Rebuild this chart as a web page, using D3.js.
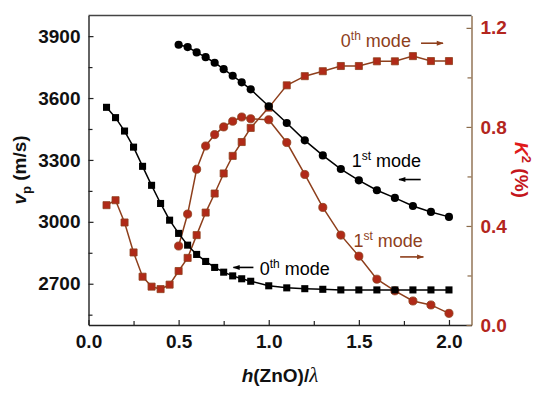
<!DOCTYPE html>
<html>
<head>
<meta charset="utf-8">
<script src="https://cdn.jsdelivr.net/npm/d3@7"></script>
<style>
    body { margin: 0; background: #fff; }
    svg { font-family: Arial, "Liberation Sans", sans-serif; }
</style>
</head>
<body>
<svg id="chart" width="550" height="396"></svg>
<script>
// Data
const hMode0 = [0.1, 0.15, 0.2, 0.25, 0.3, 0.35, 0.4, 0.45, 0.5, 0.55, 0.6, 0.65, 0.7, 0.75, 0.8, 0.85, 0.9, 1.0, 1.1, 1.2, 1.3, 1.4, 1.5, 1.6, 1.7, 1.8, 1.9, 2.0];
const vpMode0 = [3555, 3505, 3440, 3362, 3269, 3177, 3089, 3008, 2944, 2887, 2842, 2808, 2779, 2756, 2738, 2724, 2712, 2690, 2680, 2676, 2673, 2670, 2670, 2670, 2670, 2670, 2670, 2670];
const k2Mode0 = [0.484, 0.504, 0.414, 0.293, 0.195, 0.155, 0.145, 0.163, 0.218, 0.271, 0.363, 0.454, 0.531, 0.612, 0.683, 0.739, 0.796, 0.878, 0.968, 1.005, 1.025, 1.046, 1.046, 1.065, 1.065, 1.086, 1.066, 1.066];

const hMode1 = [0.5, 0.55, 0.6, 0.65, 0.7, 0.75, 0.8, 0.85, 0.9, 1.0, 1.1, 1.2, 1.3, 1.4, 1.5, 1.6, 1.7, 1.8, 1.9, 2.0];
const vpMode1 = [3858, 3847, 3821, 3798, 3771, 3740, 3708, 3676, 3642, 3560, 3479, 3395, 3322, 3256, 3201, 3153, 3116, 3077, 3048, 3024];
const k2Mode1 = [0.319, 0.448, 0.629, 0.723, 0.769, 0.800, 0.823, 0.840, 0.833, 0.829, 0.737, 0.608, 0.475, 0.363, 0.278, 0.185, 0.138, 0.097, 0.081, 0.047];

// Tick values
const xTicks = [0.0, 0.5, 1.0, 1.5, 2.0];
const xMinor = [0.25, 0.75, 1.25, 1.75];
const vpTicks = [2700, 3000, 3300, 3600, 3900];
const vpMinor = [2550, 2850, 3150, 3450, 3750];
const k2Ticks = [0.0, 0.4, 0.8, 1.2];
const k2Minor = [0.2, 0.6, 1.0];

const toPoints = (xs, ys) => xs.map((x, i) => ({x: x, y: ys[i]}));

// Colours
const brown = "#8e3f1c";
const markRed = "#b02a18";
const tickRed = "#b3261e";

const svg = d3.select('#chart');
const margin = {left: 88.5, right: 78.5, top: 15.5, bottom: 71};
const width = 550, height = 396;

// Scales
const xScale = d3.scaleLinear().domain([0, 2.125]).range([margin.left, width - margin.right]);
const yLeft = d3.scaleLinear().domain([2500, 4000]).range([height - margin.bottom, margin.top]);
const yRight = d3.scaleLinear().domain([0, 1.25]).range([height - margin.bottom, margin.top]);

// Arrow heads
const defs = svg.append("defs");
[["arrowBlack", "#000"], ["arrowBrown", brown]].forEach(([id, c]) => {
    defs.append("marker")
        .attr("id", id)
        .attr("viewBox", "0 0 10 10")
        .attr("refX", 9).attr("refY", 5)
        .attr("markerWidth", 9).attr("markerHeight", 7)
        .attr("markerUnits", "userSpaceOnUse")
        .attr("orient", "auto")
        .append("path")
        .attr("d", "M0,1.5 L10,5 L0,8.5 Z")
        .attr("fill", c);
});

// Top frame line
svg.append("line")
    .attr("x1", margin.left).attr("x2", width - margin.right)
    .attr("y1", margin.top).attr("y2", margin.top)
    .attr("stroke", "#444").attr("stroke-width", 1.3);

// Axis helper
const styleAxis = (g, color) => {
    g.select(".domain").attr("stroke", color).attr("stroke-width", 1.4);
    g.selectAll(".tick line").attr("stroke", color).attr("stroke-width", 1.2);
};

// X axis
const xAxis = svg.append("g")
    .attr("transform", "translate(0," + (height - margin.bottom) + ")")
    .call(d3.axisBottom(xScale).tickValues(xTicks).tickSizeInner(-5).tickSizeOuter(0).tickPadding(10).tickFormat(d3.format(".1f")));
styleAxis(xAxis, "#222");
xAxis.selectAll("text").attr("font-size", 19).attr("font-weight", "bold").attr("fill", "#111");
const xMin = svg.append("g")
    .attr("transform", "translate(0," + (height - margin.bottom) + ")")
    .call(d3.axisBottom(xScale).tickValues(xMinor).tickSize(-4).tickFormat(""));
xMin.select(".domain").remove();
xMin.selectAll(".tick line").attr("stroke", "#222").attr("stroke-width", 1.2);

// Left Y axis
const lAxis = svg.append("g")
    .attr("transform", "translate(" + margin.left + ",0)")
    .call(d3.axisLeft(yLeft).tickValues(vpTicks).tickSizeInner(-5).tickSizeOuter(0).tickPadding(8).tickFormat(d3.format("d")));
styleAxis(lAxis, "#222");
lAxis.selectAll("text").attr("font-size", 19).attr("font-weight", "bold").attr("fill", "#111");
const lMin = svg.append("g")
    .attr("transform", "translate(" + margin.left + ",0)")
    .call(d3.axisLeft(yLeft).tickValues(vpMinor).tickSize(-4).tickFormat(""));
lMin.select(".domain").remove();
lMin.selectAll(".tick line").attr("stroke", "#222").attr("stroke-width", 1.2);

// Right Y axis
const rAxis = svg.append("g")
    .attr("transform", "translate(" + (width - margin.right) + ",0)")
    .call(d3.axisRight(yRight).tickValues(k2Ticks).tickSizeInner(-5).tickSizeOuter(0).tickPadding(9).tickFormat(d3.format(".1f")));
styleAxis(rAxis, "#8b6b4a");
rAxis.selectAll("text").attr("font-size", 19).attr("font-weight", "bold").attr("fill", tickRed);
const rMin = svg.append("g")
    .attr("transform", "translate(" + (width - margin.right) + ",0)")
    .call(d3.axisRight(yRight).tickValues(k2Minor).tickSize(-4).tickFormat(""));
rMin.select(".domain").remove();
rMin.selectAll(".tick line").attr("stroke", "#8b6b4a").attr("stroke-width", 1.2);

// Axis titles
const xTitle = svg.append("text")
    .attr("x", 280).attr("y", 382)
    .attr("text-anchor", "middle")
    .attr("font-size", 19).attr("font-weight", "bold").attr("fill", "#111");
xTitle.append("tspan").attr("font-style", "italic").text("h");
xTitle.append("tspan").text("(ZnO)/");
xTitle.append("tspan").attr("font-style", "italic").attr("font-weight", "normal")
    .attr("font-family", "'Liberation Serif', serif").attr("font-size", 21).text("λ");

const lTitle = svg.append("text")
    .attr("transform", "translate(26,170) rotate(-90)")
    .attr("text-anchor", "middle")
    .attr("font-size", 19).attr("font-weight", "bold").attr("fill", "#111");
lTitle.append("tspan").attr("font-style", "italic").text("v");
lTitle.append("tspan").attr("font-size", 13).attr("dy", 5).text("p");
lTitle.append("tspan").attr("dy", -5).text(" (m/s)");

const rTitle = svg.append("text")
    .attr("transform", "translate(515,170) rotate(90)")
    .attr("text-anchor", "middle")
    .attr("font-size", 19).attr("font-weight", "bold").attr("fill", "#c4161c");
rTitle.append("tspan").attr("font-style", "italic").attr("fill", "#e01a1a").text("K");
rTitle.append("tspan").attr("font-size", 13).attr("dy", -7).text("2");
rTitle.append("tspan").attr("dy", 7).text(" (%)");

// Series drawing helper
const drawSeries = (data, yScale, lineColor, fill, shape, size) => {
    svg.append("path")
        .datum(data)
        .attr("fill", "none")
        .attr("stroke", lineColor)
        .attr("stroke-width", 1.5)
        .attr("d", d3.line().x(d => xScale(d.x)).y(d => yScale(d.y)));

    svg.append("g").selectAll("path")
        .data(data)
        .enter()
        .append("path")
        .attr("transform", d => "translate(" + xScale(d.x) + "," + yScale(d.y) + ")")
        .attr("d", d3.symbol().type(shape).size(size))
        .attr("fill", fill)
        .attr("stroke", lineColor === "#000" ? "none" : lineColor)
        .attr("stroke-width", 0.8);
};

drawSeries(toPoints(hMode0, k2Mode0), yRight, brown, markRed, d3.symbolSquare, 50);
drawSeries(toPoints(hMode1, k2Mode1), yRight, brown, markRed, d3.symbolCircle, 52);
drawSeries(toPoints(hMode0, vpMode0), yLeft, "#000", "#000", d3.symbolSquare, 50);
drawSeries(toPoints(hMode1, vpMode1), yLeft, "#000", "#000", d3.symbolCircle, 52);

// Annotations
const annotate = (x, y, num, sup, color) => {
    const t = svg.append("text")
        .attr("x", x).attr("y", y)
        .attr("font-size", 18).attr("fill", color);
    t.append("tspan").text(num);
    t.append("tspan").attr("font-size", 12).attr("dy", -7).text(sup);
    t.append("tspan").attr("dy", 7).text(" mode");
};
const arrow = (x1, x2, y, id, color) => {
    svg.append("line")
        .attr("x1", x1).attr("x2", x2).attr("y1", y).attr("y2", y)
        .attr("stroke", color).attr("stroke-width", 1.6)
        .attr("marker-end", "url(#" + id + ")");
};

annotate(xScale(1.40), yRight(1.122), "0", "th", brown);
arrow(xScale(1.845), xScale(1.967), yRight(1.138), "arrowBrown", brown);

annotate(xScale(1.46), yLeft(3266), "1", "st", "#000");
arrow(xScale(1.843), xScale(1.723), yLeft(3205), "arrowBlack", "#000");

annotate(xScale(1.47), yRight(0.316), "1", "st", brown);
arrow(xScale(1.729), xScale(1.858), yRight(0.275), "arrowBrown", brown);

annotate(xScale(0.95), yLeft(2742), "0", "th", "#000");
arrow(xScale(0.915), xScale(0.804), yLeft(2779), "arrowBlack", "#000");
</script>
</body>
</html>
